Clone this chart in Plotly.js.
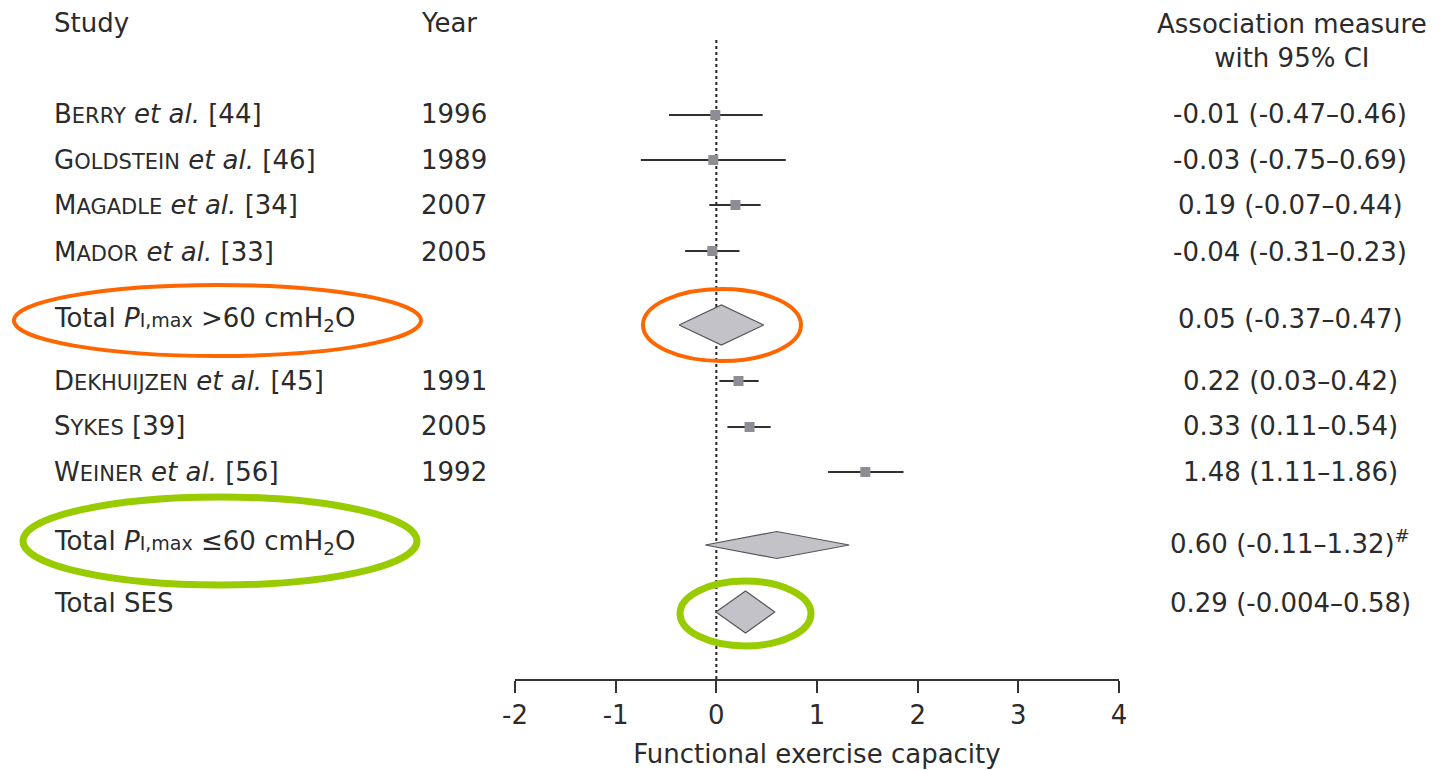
<!DOCTYPE html>
<html>
<head>
<meta charset="utf-8">
<script src="https://cdn.plot.ly/plotly-3.0.1.min.js"></script>
<style>
  html, body { margin: 0; padding: 0; background: #ffffff; }
  #chart { width: 1439px; height: 770px; }
</style>
</head>
<body>
<div id="chart"></div>
<script>
// ---------------- DATA ----------------
const studyNames   = ['Berry', 'Goldstein', 'Magadle', 'Mador', 'Dekhuijzen', 'Sykes', 'Weiner'];
const studyEtAl    = [true, true, true, true, true, false, true];
const studyRefs    = [44, 46, 34, 33, 45, 39, 56];
const studyYears   = [1996, 1989, 2007, 2005, 1991, 2005, 1992];
const studyEst     = [-0.01, -0.03, 0.19, -0.04, 0.22, 0.33, 1.48];
const studyLo      = [-0.47, -0.75, -0.07, -0.31, 0.03, 0.11, 1.11];
const studyHi      = [0.46, 0.69, 0.44, 0.23, 0.42, 0.54, 1.86];

const totalLabels  = ['Total <i>P</i><span style="font-size:19px">I,max</span> >60 cmH<sub>2</sub>O',
                      'Total <i>P</i><span style="font-size:19px">I,max</span> ≤60 cmH<sub>2</sub>O',
                      'Total SES'];
const totalEst     = [0.05, 0.60, 0.29];
const totalLo      = [-0.37, -0.11, -0.004];
const totalHi      = [0.47, 1.32, 0.58];
const totalMarks   = ['', '<sup>#</sup>', ''];

const tickVals     = [-2, -1, 0, 1, 2, 3, 4];
const tickLabels   = ['-2', '-1', '0', '1', '2', '3', '4'];
const xTitle       = 'Functional exercise capacity';
const headStudy    = 'Study';
const headYear     = 'Year';
const headMeasure  = 'Association measure<br>with 95% CI';

// ---------------- LAYOUT (pixel rows) ----------------
const W = 1439, H = 770, AXIS_Y = 679;
const studyRowY    = [115, 160, 205, 251, 381, 427, 472];
const studyTextY   = [114, 160, 205, 252, 381, 426, 472];
const totalRowY    = [325, 545, 612];
const totalTextY   = [319, 542, 603];
const diamondHalfH = [20, 13.5, 21];

const FONT = 'DejaVu Sans, Arial, sans-serif';
const TXT = '#2b2b2b';
const FS = 26;

function fmt(v) {
  const s = String(v);
  const dec = s.includes('.') ? s.split('.')[1].length : 0;
  return v.toFixed(Math.max(2, dec));
}
function smallCaps(name) {
  return name[0] + '<span style="font-size:21px">' + name.slice(1).toUpperCase() + '</span>';
}
const px = x => x / W;

const traces = [];
// study estimates with CIs
traces.push({
  type: 'scatter', mode: 'markers',
  x: studyEst, y: studyRowY,
  marker: { symbol: 'square', size: 10, color: '#8d8d94' },
  error_x: {
    type: 'data', symmetric: false,
    array: studyHi.map((h, i) => h - studyEst[i]),
    arrayminus: studyLo.map((l, i) => studyEst[i] - l),
    width: 0, thickness: 2.2, color: '#303030'
  },
  hoverinfo: 'x', showlegend: false
});
// diamonds for totals
totalEst.forEach((e, i) => {
  const r = totalRowY[i], h = diamondHalfH[i];
  traces.push({
    type: 'scatter', mode: 'lines',
    x: [totalLo[i], e, totalHi[i], e, totalLo[i]],
    y: [r, r - h, r, r + h, r],
    fill: 'toself', fillcolor: '#c2c2c8',
    line: { color: '#55555a', width: 1.2 },
    hoverinfo: 'skip', showlegend: false
  });
});

const annotations = [];
const ann = (x, y, text, xanchor, extra) => Object.assign({
  xref: 'paper', yref: 'y', x: px(x), y: y, text: text, showarrow: false,
  xanchor: xanchor, yanchor: 'middle', font: { family: FONT, size: FS, color: TXT }
}, extra || {});

annotations.push(ann(52, 23, headStudy, 'left'));
annotations.push(ann(419, 23, headYear, 'left'));
annotations.push(ann(1292, 41, headMeasure, 'center'));

studyNames.forEach((n, i) => {
  const label = smallCaps(n) + (studyEtAl[i] ? ' <i>et al.</i>' : '') + ' [' + studyRefs[i] + ']';
  annotations.push(ann(52, studyTextY[i], label, 'left'));
  annotations.push(ann(419, studyTextY[i], String(studyYears[i]), 'left'));
  annotations.push(ann(1290, studyTextY[i],
    fmt(studyEst[i]) + ' (' + fmt(studyLo[i]) + '–' + fmt(studyHi[i]) + ')', 'center'));
});
totalLabels.forEach((t, i) => {
  annotations.push(ann(52, totalTextY[i], t, 'left'));
  annotations.push(ann(1290, totalTextY[i],
    fmt(totalEst[i]) + ' (' + fmt(totalLo[i]) + '–' + fmt(totalHi[i]) + ')' + totalMarks[i], 'center'));
});

const ell = (x0, x1, y0, y1, color, w) => ({
  type: 'circle', xref: 'paper', yref: 'y',
  x0: px(x0), x1: px(x1), y0: y0, y1: y1,
  line: { color: color, width: w }, fillcolor: 'rgba(0,0,0,0)', layer: 'above'
});

const shapes = [
  { type: 'line', xref: 'x', yref: 'y', x0: 0, x1: 0, y0: 40, y1: AXIS_Y,
    line: { color: '#222222', width: 2, dash: 'dot' }, layer: 'below' },
  ell(14, 421, 285, 356, '#ff6600', 4),
  ell(643, 801, 289, 361, '#ff6600', 4),
  ell(23, 417, 497, 585, '#99cc00', 7),
  ell(680, 811, 581, 646, '#99cc00', 7)
];

const layout = {
  width: W, height: H,
  margin: { l: 0, r: 0, t: 0, b: 0 },
  paper_bgcolor: '#ffffff', plot_bgcolor: '#ffffff',
  showlegend: false,
  xaxis: {
    domain: [515 / W, 1119 / W], range: [-2, 4],
    tickvals: tickVals, ticktext: tickLabels,
    showline: true, linecolor: '#333333', linewidth: 2,
    ticks: 'outside', ticklen: 12, tickwidth: 2, tickcolor: '#333333',
    showgrid: false, zeroline: false,
    tickfont: { family: FONT, size: FS, color: TXT },
    title: { text: xTitle, font: { family: FONT, size: FS, color: TXT }, standoff: 16 },
    fixedrange: true
  },
  yaxis: {
    domain: [(H - AXIS_Y) / H, 1], range: [AXIS_Y, 0],
    visible: false, showgrid: false, zeroline: false, fixedrange: true
  },
  shapes: shapes,
  annotations: annotations
};

Plotly.newPlot('chart', traces, layout, { displayModeBar: false, staticPlot: true });
</script>
</body>
</html>
